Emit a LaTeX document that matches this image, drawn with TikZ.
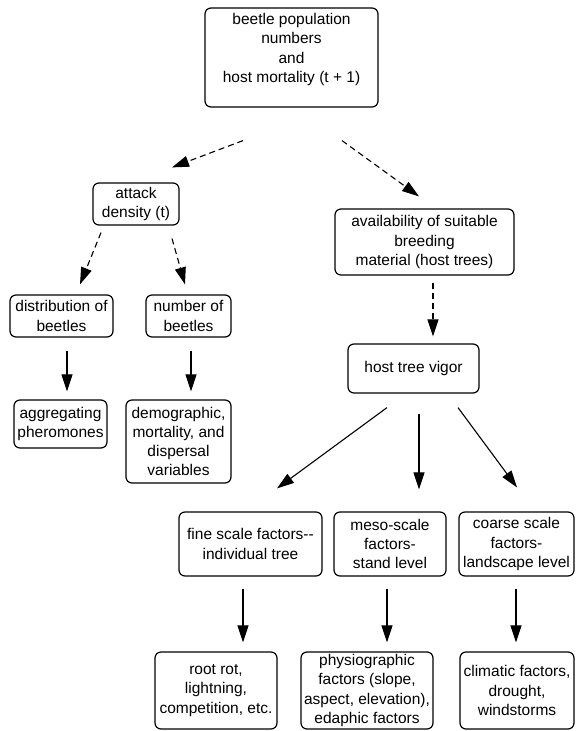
\documentclass[tikz,border=0pt]{standalone}
\usepackage{fontspec}
\setmainfont{Liberation Sans}
\usetikzlibrary{arrows.meta}

\tikzset{
  factor/.style={draw, rounded corners=6pt, line width=1.2pt, align=center,
    inner sep=1pt, font=\fontsize{15.5}{19.3}\selectfont},
  cause/.style={-{Triangle[length=17pt,width=11pt]}, line width=1.1pt},
  weak/.style={cause, dash pattern=on 6pt off 4pt},
}

\begin{document}
\begin{tikzpicture}[x=1pt, y=-1pt]
  \useasboundingbox (0,0) rectangle (576,731);

  % Define nodes
  \node[factor, minimum width=173pt, minimum height=99pt] (pop)   at (291.5,57.5) {beetle population\\numbers\\and\\host mortality (t + 1)\\ \mbox{}};
  \node[factor, minimum width=86pt,  minimum height=42pt] (att)   at (136,204)    {attack\\density (t)};
  \node[factor, minimum width=179pt, minimum height=66pt] (avail) at (424.5,242)  {availability of suitable\\breeding\\material (host trees)};
  \node[factor, minimum width=103pt, minimum height=42pt] (dist)  at (61.5,316)   {distribution of\\beetles};
  \node[factor, minimum width=85pt,  minimum height=42pt] (num)   at (188.5,316)  {number of\\beetles};
  \node[factor, minimum width=131pt, minimum height=49pt] (vig)   at (413.5,368.5) {host tree vigor};
  \node[factor, minimum width=93pt,  minimum height=48pt] (agg)   at (60.5,424)   {aggregating\\pheromones};
  \node[factor, minimum width=105pt, minimum height=83pt] (dem)   at (178.5,441.5) {demographic,\\mortality, and\\dispersal\\variables};
  \node[factor, minimum width=143pt, minimum height=64pt] (fine)  at (250.5,544)  {fine scale factors-{}-\\individual tree};
  \node[factor, minimum width=112pt, minimum height=64pt] (meso)  at (390,544)    {meso-scale\\factors-\\stand level};
  \node[factor, minimum width=115pt, minimum height=64pt] (coarse) at (516.5,544) {coarse scale\\factors-\\landscape level};
  \node[factor, minimum width=122pt, minimum height=77pt] (root)  at (216,690.5)  {root rot,\\lightning,\\competition, etc.};
  \node[factor, minimum width=132pt, minimum height=77pt] (phys)  at (367,690.5)  {physiographic\\factors (slope,\\aspect, elevation),\\edaphic factors};
  \node[factor, minimum width=114pt, minimum height=77pt] (clim)  at (517,690.5)  {climatic factors,\\drought,\\windstorms};

  % Connect the nodes
  \draw[weak] ([shift={(-48.5,33)}]pop.south) -- ([shift={(36,-15)}]att.north);
  \draw[weak] ([shift={(50.5,33)}]pop.south) -- ([shift={(-5.5,-12)}]avail.north);
  \draw[weak] ([shift={(-35,7)}]att.south) -- ([shift={(18.5,-10)}]dist.north);
  \draw[weak] ([shift={(36,13)}]att.south) -- ([shift={(-3.5,-10)}]num.north);
  \draw[weak] ([shift={(8.5,7)}]avail.south) -- ([shift={(19.5,-7)}]vig.north);
  \draw[cause] ([shift={(5.5,13)}]dist.south) -- ([shift={(6.5,-8)}]agg.north);
  \draw[cause] ([shift={(2.5,13)}]num.south) -- ([shift={(12.5,-8)}]dem.north);
  \draw[cause] ([shift={(-26.5,14)}]vig.south) -- ([shift={(26.5,-23)}]fine.north);
  \draw[cause] ([shift={(5.5,20)}]vig.south) -- ([shift={(29,-22)}]meso.north);
  \draw[cause] ([shift={(44.5,14)}]vig.south) -- ([shift={(0.5,-24)}]coarse.north);
  \draw[cause] ([shift={(-7.5,12)}]fine.south) -- ([shift={(27,-9)}]root.north);
  \draw[cause] ([shift={(-3,12)}]meso.south) -- ([shift={(20,-9)}]phys.north);
  \draw[cause] ([shift={(-0.5,12)}]coarse.south) -- ([shift={(-1,-9)}]clim.north);

\end{tikzpicture}
\end{document}
